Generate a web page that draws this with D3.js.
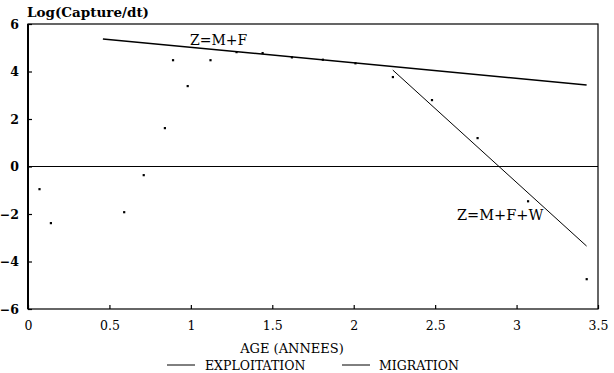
<!DOCTYPE html>
<html><head><meta charset="utf-8">
<script src="https://cdn.jsdelivr.net/npm/d3@7"></script>
<style>
html,body{margin:0;padding:0;background:#fff;}
svg{display:block;}
text{font-family:"DejaVu Serif","Liberation Serif",serif;fill:#000;}
</style></head>
<body>
<svg id="chart" width="614" height="373"></svg>
<script>
// Observed points
const ages = [0.07, 0.14, 0.59, 0.71, 0.84, 0.89, 0.98, 1.12, 1.28, 1.44, 1.62, 1.81, 2.01, 2.24, 2.48, 2.76, 3.07, 3.43];
const logCapture = [-0.95, -2.38, -1.92, -0.36, 1.62, 4.48, 3.39, 4.48, 4.82, 4.78, 4.6, 4.5, 4.35, 3.77, 2.8, 1.2, -1.46, -4.74];
// Fitted lines (end points)
const exploitAges = [0.46, 3.43];
const exploitVals = [5.37, 3.43];
const migrAges = [2.24, 3.43];
const migrVals = [4.06, -3.35];
const xTicks = [0, 0.5, 1, 1.5, 2, 2.5, 3, 3.5];
const yTicks = [-6, -4, -2, 0, 2, 4, 6];
const legendLabels = ["EXPLOITATION", "MIGRATION"];

const svg = d3.select("#chart");
const x = d3.scaleLinear().domain([0, 3.5]).range([28, 598]);
const y = d3.scaleLinear().domain([-6, 6]).range([309, 24]);

// frame
svg.append("rect").attr("x", x(0)).attr("y", y(6)).attr("width", x(3.5) - x(0)).attr("height", y(-6) - y(6))
  .attr("fill", "none").attr("stroke", "#000").attr("stroke-width", 1.2);
svg.append("line").attr("x1", x(0)).attr("x2", x(0)).attr("y1", y(6)).attr("y2", y(-6))
  .attr("stroke", "#000").attr("stroke-width", 2);

// zero line
svg.append("line").attr("x1", x(0)).attr("x2", x(3.5)).attr("y1", y(0)).attr("y2", y(0))
  .attr("stroke", "#000").attr("stroke-width", 1.2);

// axes
const xAxis = d3.axisBottom(x).tickValues(xTicks).tickSize(-4).tickPadding(12)
  .tickFormat(d => d3.format("")(d));
const gx = svg.append("g").attr("transform", `translate(0,${y(-6)})`).call(xAxis);
gx.select(".domain").remove();
gx.selectAll("text").attr("font-size", 12.5).attr("font-family", "DejaVu Serif, serif");
gx.selectAll("line").attr("stroke-width", 1.2);

const yAxis = d3.axisLeft(y).tickValues(yTicks).tickSize(-4).tickPadding(9)
  .tickFormat(d => d < 0 ? "\u2212" + Math.abs(d) : d);
const gy = svg.append("g").attr("transform", `translate(${x(0)},0)`).call(yAxis);
gy.select(".domain").remove();
gy.selectAll("text").attr("font-size", 12.5).attr("font-family", "DejaVu Serif, serif").attr("font-weight", "bold");
gy.selectAll("line").attr("stroke-width", 1.2);

// title
svg.append("text").attr("x", 27).attr("y", 17).attr("font-size", 13.5).attr("font-weight", "bold")
  .text("Log(Capture/dt)");

// fitted lines
const line = d3.line().x(d => x(d[0])).y(d => y(d[1]));
svg.append("path").datum(d3.zip(exploitAges, exploitVals)).attr("d", line)
  .attr("fill", "none").attr("stroke", "#000").attr("stroke-width", 1.5);
svg.append("path").datum(d3.zip(migrAges, migrVals)).attr("d", line)
  .attr("fill", "none").attr("stroke", "#000").attr("stroke-width", 1);

// points
svg.selectAll("rect.pt").data(d3.zip(ages, logCapture)).join("rect").attr("class", "pt")
  .attr("x", d => x(d[0]) - 1).attr("y", d => y(d[1]) - 1).attr("width", 2.2).attr("height", 2.2)
  .attr("fill", "#000");

// annotations
svg.append("text").attr("x", 190).attr("y", 45).attr("font-size", 14).text("Z=M+F");
svg.append("text").attr("x", 457).attr("y", 220).attr("font-size", 14.5).text("Z=M+F+W");

// x axis title
svg.append("text").attr("x", 292).attr("y", 353).attr("text-anchor", "middle").attr("font-size", 13)
  .text("AGE (ANNEES)");

// legend
const legX = [167, 342];
const legTextX = [205, 379];
legendLabels.forEach((lab, i) => {
  svg.append("line").attr("x1", legX[i]).attr("x2", legX[i] + 28).attr("y1", 365).attr("y2", 365)
    .attr("stroke", "#000").attr("stroke-width", 1);
  svg.append("text").attr("x", legTextX[i]).attr("y", 370).attr("font-size", 12.5).text(lab);
});
</script>
</body></html>
